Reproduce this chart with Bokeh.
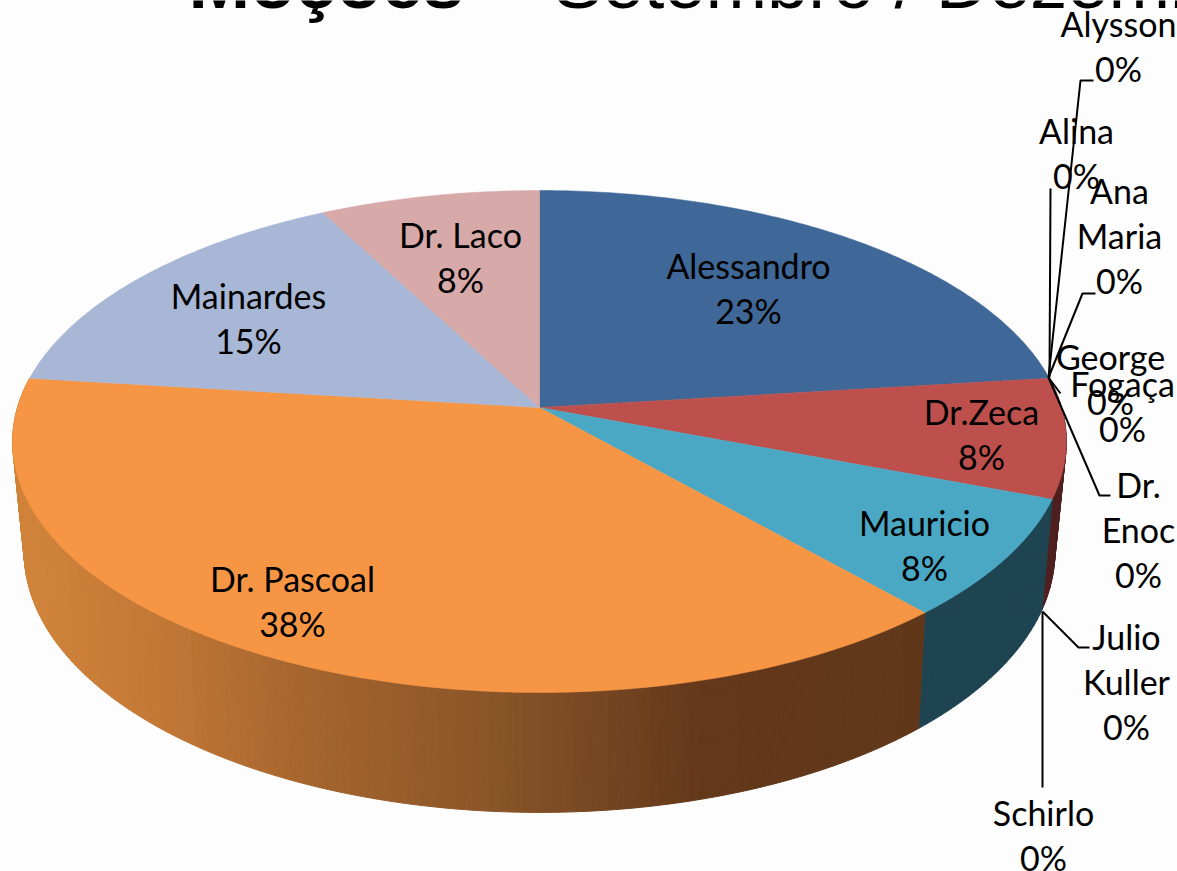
import math
from bokeh.plotting import figure
from bokeh.models import ColumnDataSource
from bokeh.core.properties import value
from bokeh.embed import file_html
from bokeh.resources import INLINE

# ---- data (clockwise from 12 o'clock) ----
names = ["Alessandro", "Alysson", "Alina", "Ana\nMaria", "George", "Fogaça", "Dr.\nEnoc",
         "Dr.Zeca", "Julio\nKuller", "Schirlo", "Mauricio", "Dr. Pascoal", "Mainardes", "Dr. Laco"]
values = [3, 0, 0, 0, 0, 0, 0, 1, 0, 0, 1, 5, 2, 1]
top_colors = {"Alessandro": "#3f6797", "Dr.Zeca": "#bd4f4c", "Mauricio": "#4aa8c4",
              "Dr. Pascoal": "#f69544", "Mainardes": "#a8b7d5", "Dr. Laco": "#d7a9a8"}
side_colors = {"Dr.Zeca": "#4f2020", "Mauricio": "#1f4451"}
gradient_x = [25, 150, 300, 500, 700, 1100]
gradient_rgb = [(208, 131, 58), (196, 120, 54), (166, 102, 46), (136, 84, 40), (100, 56, 26), (95, 55, 25)]
title_bold = "Moções"
title_rest = "– Setembro / Dezembro"

# ---- label layout: centre of the first line of each label, and line pitches ----
label_pos = {
    "Alessandro": (748, 265), "Dr.Zeca": (981, 411), "Mauricio": (924, 522),
    "Dr. Pascoal": (292, 578), "Mainardes": (248, 295), "Dr. Laco": (460, 234),
    "Alysson": (1118, 23), "Alina": (1076, 130), "Ana\nMaria": (1119, 190),
    "George": (1110, 356), "Fogaça": (1122, 383), "Dr.\nEnoc": (1138, 484),
    "Julio\nKuller": (1126, 636), "Schirlo": (1043, 812),
}
leaders = [
    [(1048, 377), (1080, 80), (1093, 80)],
    [(1049, 377), (1050, 188)],
    [(1048, 377), (1082, 293), (1095, 293)],
    [(1048, 377), (1060, 393)],
    [(1048, 377), (1099, 495), (1110, 495)],
    [(1042, 611), (1078, 647), (1089, 647)],
    [(1042, 611), (1042, 787)],
]

# ---- perspective model of the two discs ----
CX = 539
TOP = dict(cy=407, rx=522, ry=246.4, k=0.1355)
BOT = dict(cy=514, rx=510, ry=255, k=0.144)


def project(theta, d):
    X, Y = math.sin(theta), math.cos(theta)
    w = 1 + d["k"] * Y
    return CX + d["rx"] * X / w, d["cy"] - d["ry"] * Y / w


def grad(x):
    if x <= gradient_x[0]:
        c = gradient_rgb[0]
    elif x >= gradient_x[-1]:
        c = gradient_rgb[-1]
    else:
        for i in range(len(gradient_x) - 1):
            if gradient_x[i] <= x <= gradient_x[i + 1]:
                t = (x - gradient_x[i]) / (gradient_x[i + 1] - gradient_x[i])
                c = tuple(a + (b - a) * t for a, b in zip(gradient_rgb[i], gradient_rgb[i + 1]))
                break
    return "#%02x%02x%02x" % tuple(int(round(v)) for v in c)


total = sum(values)
spans = {}
acc = 0
for n, v in zip(names, values):
    a0 = acc / total * 2 * math.pi
    acc += v
    spans[n] = (a0, acc / total * 2 * math.pi)

p = figure(width=1177, height=871, x_range=(0, 1177), y_range=(871, 0),
           output_backend="svg", toolbar_location=None, min_border=0,
           margin=(0, 0, 0, 0),
           background_fill_color="#fdfdfd", border_fill_color="#fdfdfd", outline_line_color=None)
p.axis.visible = False
p.grid.visible = False

# side walls
sx, sy, sc = [], [], []
for n in ["Dr.Zeca", "Mauricio", "Dr. Pascoal"]:
    a0, a1 = spans[n]
    steps = 170 if n == "Dr. Pascoal" else 24
    for i in range(steps):
        t0 = a0 + (a1 - a0) * i / steps
        t1 = a0 + (a1 - a0) * (i + 1) / steps
        q = [project(t0, TOP), project(t1, TOP), project(t1, BOT), project(t0, BOT)]
        sx.append([c[0] for c in q])
        sy.append([c[1] for c in q])
        sc.append(side_colors[n] if n in side_colors else grad((q[0][0] + q[1][0]) / 2))
p.patches("x", "y", fill_color="c", line_color="c", line_width=1,
          source=ColumnDataSource(dict(x=sx, y=sy, c=sc)))

# top faces
fx, fy, fc = [], [], []
for n, v in zip(names, values):
    if v == 0:
        continue
    a0, a1 = spans[n]
    pts = [project(a0 + (a1 - a0) * i / 120, TOP) for i in range(121)]
    fx.append([CX] + [c[0] for c in pts])
    fy.append([TOP["cy"]] + [c[1] for c in pts])
    fc.append(top_colors[n])
p.patches("x", "y", fill_color="c", line_color="c", line_width=0.5,
          source=ColumnDataSource(dict(x=fx, y=fy, c=fc)))

# leader lines
p.multi_line([[c[0] for c in l] for l in leaders], [[c[1] for c in l] for l in leaders],
             line_color="#000000", line_width=2)

# labels
tx, ty, tt = [], [], []
PITCH = 45
for n, v in zip(names, values):
    x, y = label_pos[n]
    lines = n.split("\n") + ["%d%%" % round(v / total * 100)]
    for i, s in enumerate(lines):
        tx.append(x)
        ty.append(y + i * PITCH)
        tt.append(s)
p.text(tx, ty, text=tt, text_font=value("Lato"), text_font_size="34px", text_color="#000000",
       text_align="center", text_baseline="middle")

# title, cut by the top edge as in the source
p.text([188], [23], text=[title_bold], text_font=value("Liberation Sans"), text_font_size="74px",
       text_font_style="bold", text_color="#000000", text_align="left", text_baseline="bottom")
p.text([491], [23], text=[title_rest], text_font=value("Liberation Sans"), text_font_size="74px",
       text_color="#000000", text_align="left", text_baseline="bottom")

open("out.html", "w").write(file_html(p, INLINE))
